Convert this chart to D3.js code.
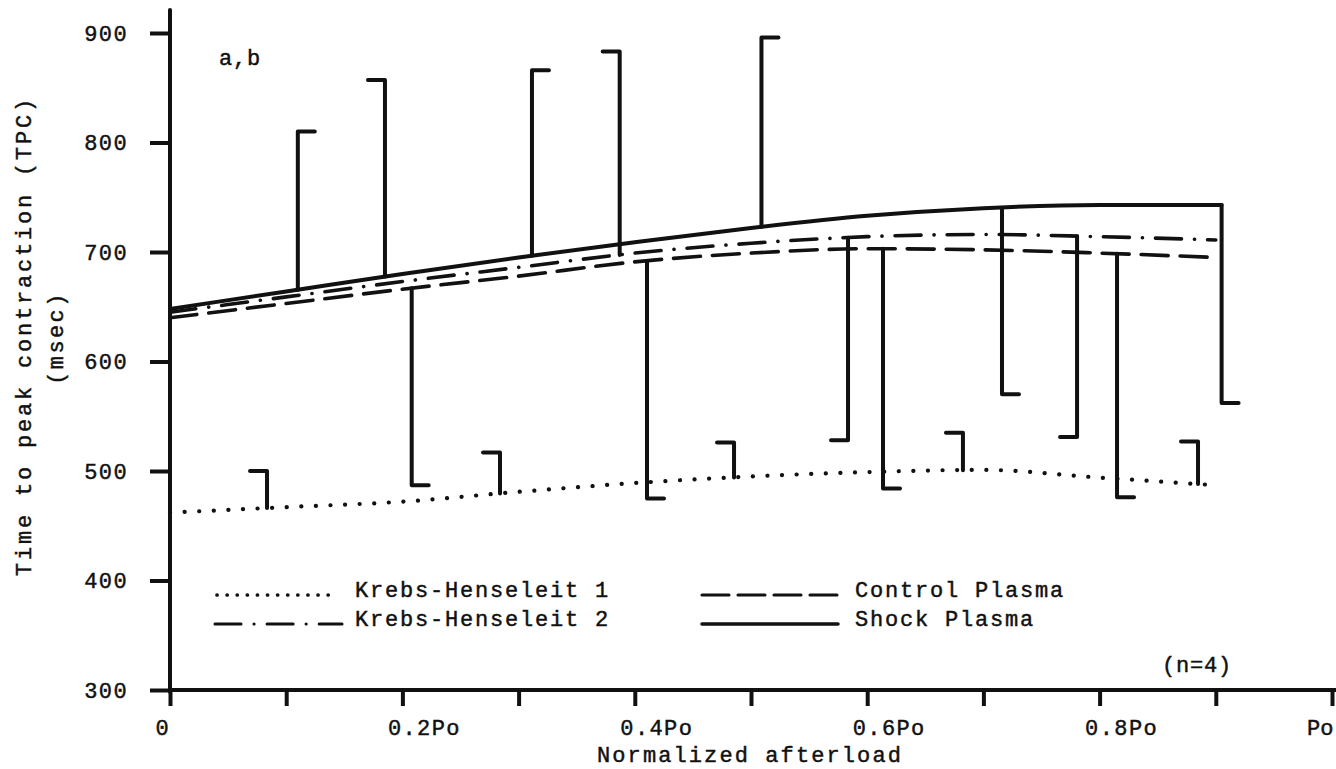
<!DOCTYPE html>
<html lang="en">
<head>
    <meta charset="UTF-8">
    <title>Time to peak contraction vs normalized afterload</title>
    <script src="https://d3js.org/d3.v7.min.js"></script>
    <style>
        body { margin: 0; background: #fff; }
        text { font-family: "Liberation Mono", "DejaVu Sans Mono", monospace; fill: #111; stroke: #111; stroke-width: 0.45px; }
    </style>
</head>
<body>
    <svg id="chart" width="1336" height="769"></svg>
    <script>
        // Data
        var loads = [0, 0.1, 0.2, 0.3, 0.4, 0.5, 0.6, 0.7, 0.8, 0.9];
        var shockLoads = [0, 0.1, 0.2, 0.3, 0.4, 0.5, 0.6, 0.7, 0.8, 0.905];
        var kh1 = [462, 467, 472, 481, 489, 495, 499, 501, 494, 487];
        var kh2 = [645, 659, 673, 686, 699, 708, 714, 716, 714, 711];
        var control = [640, 653, 666, 678, 691, 699, 703, 702, 699, 695];
        var shock = [648, 664, 680, 695, 709, 722, 733, 740, 743, 743];

        // Error bars: which curve they hang from, where, and where they end
        var barSeries = ["shock", "shock", "control", "shock", "kh2", "control", "shock", "kh2", "control",
                         "shock", "kh2", "control", "shock", "kh1", "kh1", "kh1", "kh1", "kh1"];
        var barLoads = [0.110, 0.185, 0.208, 0.3115, 0.387, 0.4105, 0.509, 0.5835, 0.6136,
                        0.716, 0.7806, 0.815, 0.905, 0.0835, 0.284, 0.4854, 0.6824, 0.8847];
        var barEnds = [810, 857, 487, 866, 883, 475, 896, 528, 484,
                       570, 531, 476, 562, 500, 517, 526, 535, 527];
        var capSide = [1, -1, 1, 1, -1, 1, 1, -1, 1, 1, -1, 1, 1, -1, -1, -1, -1, -1];

        var xTicks = [0, 0.1, 0.2, 0.3, 0.4, 0.5, 0.6, 0.7, 0.8, 0.9, 1.0];
        var xLabels = ["0", "", "0.2Po", "", "0.4Po", "", "0.6Po", "", "0.8Po", "", "Po"];
        var yTicks = [300, 400, 500, 600, 700, 800, 900];

        var svg = d3.select("#chart");

        var x = d3.scaleLinear().domain([0, 1]).range([170, 1332]);
        var y = d3.scaleLinear().domain([300, 900]).range([690, 33]);

        var seriesInfo = {
            kh1:     { xs: loads,      ys: kh1,     dash: "0.1,14.5", width: 4.2 },
            kh2:     { xs: loads,      ys: kh2,     dash: "26,13,0.1,13", width: 3.6 },
            control: { xs: loads,      ys: control, dash: "27,12", width: 3.6 },
            shock:   { xs: shockLoads, ys: shock,   dash: null, width: 4 }
        };

        // value of a curve at a given load (linear between read points)
        function valueAt(key, f) {
            var s = seriesInfo[key];
            var i = d3.bisectRight(s.xs, f) - 1;
            i = Math.max(0, Math.min(i, s.xs.length - 2));
            var t = (f - s.xs[i]) / (s.xs[i + 1] - s.xs[i]);
            t = Math.max(0, Math.min(1, t));
            return s.ys[i] + t * (s.ys[i + 1] - s.ys[i]);
        }

        var line = d3.line()
            .x(function(d) { return x(d[0]); })
            .y(function(d) { return y(d[1]); })
            .curve(d3.curveMonotoneX);

        // Curves
        Object.keys(seriesInfo).forEach(function(key) {
            var s = seriesInfo[key];
            svg.append("path")
                .datum(d3.zip(s.xs, s.ys))
                .attr("d", line)
                .attr("fill", "none")
                .attr("stroke", "#111")
                .attr("stroke-width", s.width)
                .attr("stroke-linecap", "round")
                .attr("stroke-dasharray", s.dash);
        });

        // Error bars with one-sided caps
        var capLen = 17;
        svg.append("g")
            .selectAll("path")
            .data(barLoads.map(function(f, i) {
                return { f: f, base: valueAt(barSeries[i], f), end: barEnds[i], side: capSide[i] };
            }))
            .enter()
            .append("path")
            .attr("d", function(d) {
                var px = x(d.f);
                return "M" + px + "," + y(d.base) + "V" + y(d.end) + "h" + (d.side * capLen);
            })
            .attr("fill", "none")
            .attr("stroke", "#111")
            .attr("stroke-width", 4)
            .attr("stroke-linejoin", "round")
            .attr("stroke-linecap", "round");

        // Y axis
        var yAxis = svg.append("g")
            .attr("transform", "translate(170,0)")
            .call(d3.axisLeft(y).tickValues(yTicks).tickSize(20).tickPadding(22).tickFormat(d3.format("d")));
        yAxis.select(".domain").remove();
        yAxis.selectAll("line").attr("stroke", "#111").attr("stroke-width", 4);
        yAxis.selectAll("text").style("font-size", "22px").style("letter-spacing", "1.4px").attr("fill", "#111");
        svg.append("line")
            .attr("x1", 170).attr("x2", 170)
            .attr("y1", y(300) + 2).attr("y2", y(921))
            .attr("stroke", "#111").attr("stroke-width", 4).attr("stroke-linecap", "round");

        // X axis
        var lastTick = xTicks.length - 1;
        var xAxis = svg.append("g")
            .attr("transform", "translate(0,690)")
            .call(d3.axisBottom(x).tickValues(xTicks).tickSize(16).tickPadding(13)
                .tickFormat(function(d, i) { return xLabels[i]; }));
        xAxis.select(".domain").remove();
        xAxis.selectAll("line").attr("stroke", "#111").attr("stroke-width", 4);
        xAxis.selectAll("text")
            .attr("text-anchor", function(d, i) { return i === lastTick ? "end" : "start"; })
            .attr("x", function(d, i) { return i === lastTick ? 1 : -15; })
            .style("font-size", "22px")
            .style("letter-spacing", function(d, i) { return i === lastTick ? "0px" : "1.4px"; })
            .attr("fill", "#111");
        svg.append("line")
            .attr("x1", 168).attr("x2", 1336)
            .attr("y1", 690).attr("y2", 690)
            .attr("stroke", "#111").attr("stroke-width", 4);

        // Axis titles
        svg.append("text")
            .attr("transform", "translate(31,336) rotate(-90)")
            .attr("text-anchor", "middle")
            .style("font-size", "22px")
            .style("letter-spacing", "2.8px")
            .text("Time to peak contraction (TPC)");
        svg.append("text")
            .attr("transform", "translate(63,338) rotate(-90)")
            .attr("text-anchor", "middle")
            .style("font-size", "22px")
            .style("letter-spacing", "2.4px")
            .text("(msec)");
        svg.append("text")
            .attr("x", 750).attr("y", 762)
            .attr("text-anchor", "middle")
            .style("font-size", "22px")
            .style("letter-spacing", "2.1px")
            .text("Normalized afterload");

        // Annotations
        svg.append("text").attr("x", 219).attr("y", 65)
            .style("font-size", "22px").style("letter-spacing", "0.8px").text("a,b");
        svg.append("text").attr("x", 1162).attr("y", 672)
            .style("font-size", "22px").style("letter-spacing", "0.8px").text("(n=4)");

        // Legend
        var legendNames = ["Krebs-Henseleit 1", "Krebs-Henseleit 2", "Control Plasma", "Shock Plasma"];
        var legendKeys = ["kh1", "kh2", "control", "shock"];
        var legendDash = ["0.1,10", "26,13,0.1,13", "27,9", null];
        var legendPos = [[217, 333, 355, 597], [215, 342, 355, 626], [702, 838, 855, 597], [702, 838, 855, 626]];

        var legend = svg.append("g").attr("id", "legend");
        legendKeys.forEach(function(key, i) {
            var p = legendPos[i];
            legend.append("line")
                .attr("x1", p[0]).attr("x2", p[1])
                .attr("y1", p[3] - 2).attr("y2", p[3] - 2)
                .attr("stroke", "#111")
                .attr("stroke-width", seriesInfo[key].width - 0.5)
                .attr("stroke-linecap", "round")
                .attr("stroke-dasharray", legendDash[i]);
            legend.append("text")
                .attr("x", p[2]).attr("y", p[3])
                .style("font-size", "22px")
                .style("letter-spacing", "1.8px")
                .text(legendNames[i]);
        });
    </script>
</body>
</html>
